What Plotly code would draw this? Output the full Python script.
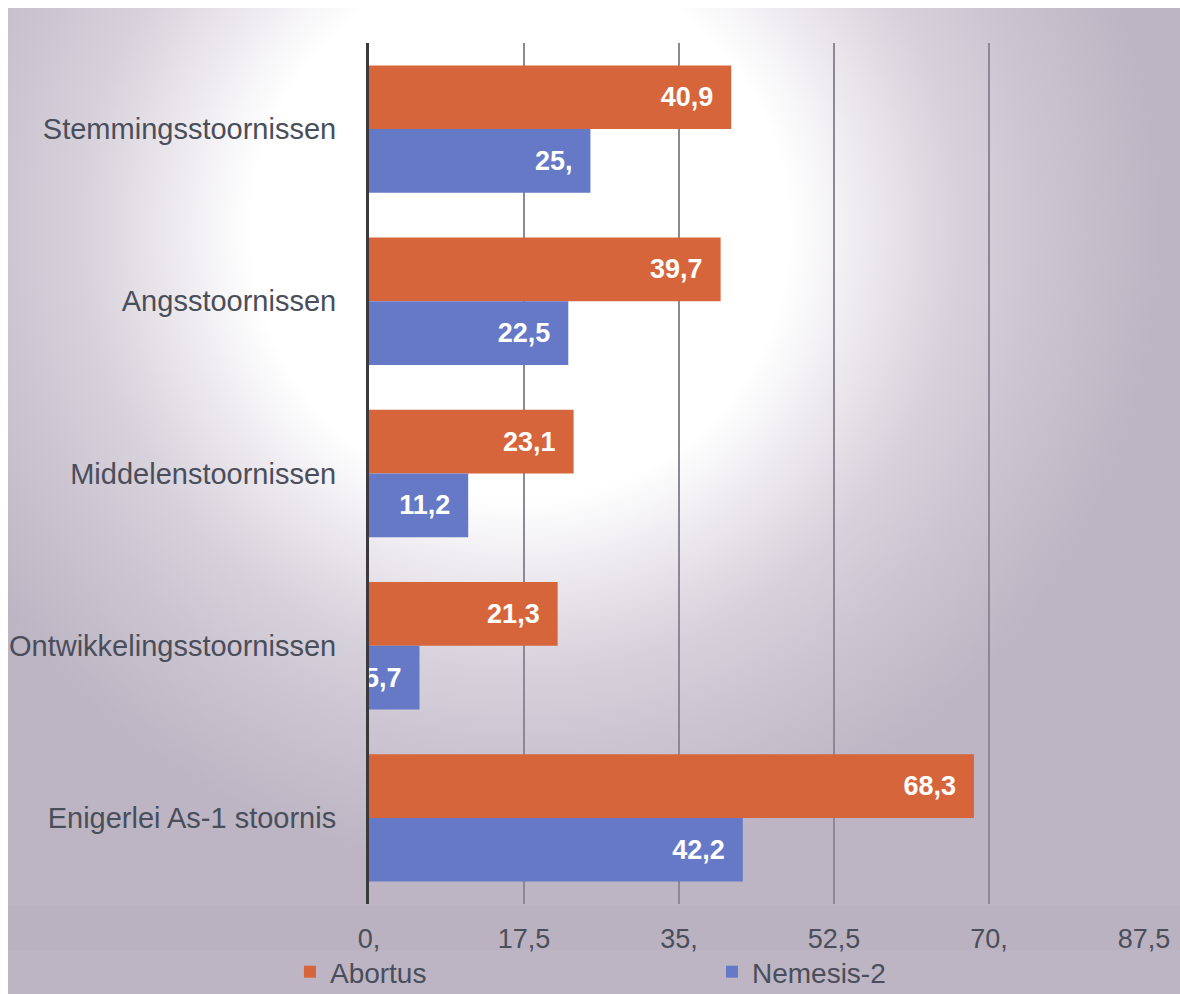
import base64
import plotly.graph_objects as go

categories = ["Stemmingsstoornissen", "Angsstoornissen", "Middelenstoornissen",
              "Ontwikkelingsstoornissen", "Enigerlei As-1 stoornis"]
abortus = [40.9, 39.7, 23.1, 21.3, 68.3]
nemesis = [25.0, 22.5, 11.2, 5.7, 42.2]
series_names = ["Abortus", "Nemesis-2"]
tick_values = [0, 17.5, 35, 52.5, 70, 87.5]
tick_labels = ["0,", "17,5", "35,", "52,5", "70,", "87,5"]


def fmt(v):
    s = f"{v:.1f}".replace(".", ",")
    if s.endswith(",0"):
        s = s[:-1]
    return s + "\u00a0\u00a0"


W, H = 1180, 994
L, R, T, B = 369, 36, 43, 90
pw, ph = W - L - R, H - T - B

svg = f"""<svg xmlns='http://www.w3.org/2000/svg' width='{W}' height='{H}' viewBox='0 0 {W} {H}'>
<defs>
<radialGradient id='g' gradientUnits='userSpaceOnUse' cx='520' cy='230' r='640'>
<stop offset='0' stop-color='#ffffff'/>
<stop offset='0.42' stop-color='#ffffff'/>
<stop offset='0.68' stop-color='#d8d2dc'/>
<stop offset='0.88' stop-color='#c6bfcc'/>
<stop offset='1' stop-color='#bdb5c3'/>
</radialGradient>
</defs>
<rect x='0' y='0' width='{W}' height='{H}' fill='#ffffff'/>
<rect x='8' y='8' width='{W-8}' height='{H-8}' fill='url(#g)'/>
<rect x='8' y='906' width='{W-8}' height='44' fill='#a89fb0' fill-opacity='0.08'/>
</svg>"""
src = "data:image/svg+xml;base64," + base64.b64encode(svg.encode()).decode()

label_font = dict(family="Liberation Sans, Arial, sans-serif", size=27, color="white", weight="bold")

fig = go.Figure()
fig.add_trace(go.Bar(
    name=series_names[0], y=categories, x=abortus, orientation="h",
    marker=dict(color="#D7653B", line=dict(width=0)),
    text=[fmt(v) for v in abortus], textposition="inside", insidetextanchor="end",
    constraintext="none", textangle=0, textfont=label_font,
))
fig.add_trace(go.Bar(
    name=series_names[1], y=categories, x=nemesis, orientation="h",
    marker=dict(color="#6679C7", line=dict(width=0)),
    text=[fmt(v) for v in nemesis], textposition="inside", insidetextanchor="end",
    constraintext="none", textangle=0, textfont=label_font,
))

fig.update_layout(
    width=W, height=H,
    margin=dict(l=L, r=R, t=T, b=B, pad=0, autoexpand=False),
    paper_bgcolor="white", plot_bgcolor="rgba(0,0,0,0)",
    barmode="group", bargap=0.26, bargroupgap=0,
    font=dict(family="Liberation Sans, Arial, sans-serif", color="#4a4e5a"),
    images=[dict(source=src, xref="paper", yref="paper",
                 x=-L / pw, y=1 + T / ph, sizex=W / pw, sizey=H / ph,
                 xanchor="left", yanchor="top", sizing="stretch", layer="below")],
    legend=dict(orientation="h", x=-0.102, y=(T + ph - 972) / ph, xanchor="left", yanchor="middle",
                bgcolor="rgba(0,0,0,0)", font=dict(size=28, color="#4a4e5a"),
                entrywidth=377, entrywidthmode="pixels", traceorder="normal",
                itemwidth=30),
    showlegend=True,
)
fig.update_xaxes(range=[0, 87.5], tickvals=tick_values, ticktext=tick_labels,
                 showgrid=True, gridcolor="#8d8896", gridwidth=1.5,
                 zeroline=False, showline=False, ticks="",
                 tickfont=dict(size=27, color="#4a4e5a"), ticklabelstandoff=16,
                 fixedrange=True)
fig.update_yaxes(autorange="reversed", showgrid=False, showline=True,
                 linecolor="#3a3a3e", linewidth=3, ticks="",
                 tickfont=dict(size=29, color="#4a4e5a"), ticklabelstandoff=24,
                 fixedrange=True)

fig.write_html("out.html", config={"displayModeBar": False},
               post_script="document.body.style.margin='0px';document.body.style.overflow='hidden';")
